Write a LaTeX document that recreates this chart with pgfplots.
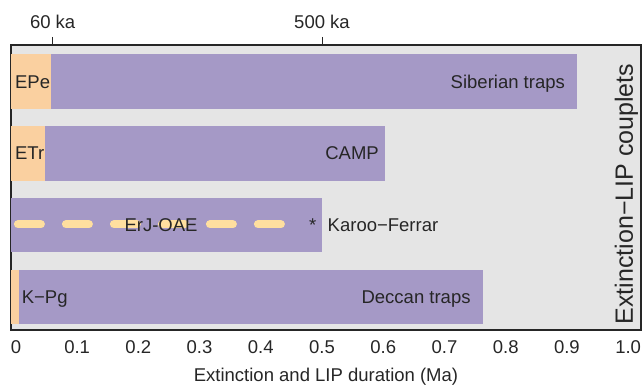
\documentclass[border=0pt]{standalone}
\usepackage{pgfplots}
\pgfplotsset{compat=1.18}
\usepackage{fontspec}
\setmainfont{Liberation Sans}
\definecolor{bggray}{HTML}{E5E5E5}
\definecolor{lip}{HTML}{A599C6}
\definecolor{ext}{HTML}{FAD0A0}
\definecolor{dashc}{HTML}{FFDF9F}
\definecolor{axc}{HTML}{262626}
\begin{document}
\begin{tikzpicture}
\path[use as bounding box] (-11pt,-56pt) rectangle (632pt,330pt);
\begin{axis}[
  scale only axis, width=630pt, height=285pt,
  xmin=-0.008, xmax=1.021, ymin=-0.462, ymax=3.51,
  axis background/.style={fill=bggray},
  axis line style={axc, line width=1.3pt},
  font=\fontsize{18.5}{22}\selectfont,
  /pgf/number format/assume math mode=true,
  ytick=\empty,
  xtick={0,0.1,0.2,0.3,0.4,0.5,0.6,0.7,0.8,0.9,1.0},
  xticklabels={0,0.1,0.2,0.3,0.4,0.5,0.6,0.7,0.8,0.9,1.0},
  major tick length=0pt,
  xticklabel style={anchor=base, yshift=-23pt, text=axc},
  xlabel={Extinction and LIP duration (Ma)},
  xlabel style={at={(axis description cs:0.5,0)}, anchor=base, yshift=-51pt, text=axc},
  clip=false,
]
% LIP durations (purple): Siberian traps, CAMP, Karoo-Ferrar, Deccan traps
\addplot[fill=lip, draw=none] coordinates {(-0.008,2.62) (0.916,2.62) (0.916,3.38) (-0.008,3.38)} -- cycle;
\addplot[fill=lip, draw=none] coordinates {(-0.008,1.62) (0.603,1.62) (0.603,2.38) (-0.008,2.38)} -- cycle;
\addplot[fill=lip, draw=none] coordinates {(-0.008,0.62) (0.500,0.62) (0.500,1.38) (-0.008,1.38)} -- cycle;
\addplot[fill=lip, draw=none] coordinates {(-0.008,-0.38) (0.763,-0.38) (0.763,0.38) (-0.008,0.38)} -- cycle;
% Extinction durations (orange): EPe, ETr, K-Pg
\addplot[fill=ext, draw=none] coordinates {(-0.008,2.62) (0.058,2.62) (0.058,3.38) (-0.008,3.38)} -- cycle;
\addplot[fill=ext, draw=none] coordinates {(-0.008,1.62) (0.047,1.62) (0.047,2.38) (-0.008,2.38)} -- cycle;
\addplot[fill=ext, draw=none] coordinates {(-0.008,-0.38) (0.005,-0.38) (0.005,0.38) (-0.008,0.38)} -- cycle;
% ErJ-OAE dashed line
\addplot[dashc, line width=8pt, line cap=round, dash pattern=on 23pt off 25pt] coordinates {
  (0.0033,1.01) (0.433,1.01)
};
\tikzset{lab/.style={text=axc, inner sep=0pt, yshift=-6.6pt}}
\node[lab, anchor=base west] at (axis cs:-0.0016,3) {EPe};
\node[lab, anchor=base east] at (axis cs:0.897,3) {Siberian traps};
\node[lab, anchor=base west] at (axis cs:-0.0016,2) {ETr};
\node[lab, anchor=base east] at (axis cs:0.593,2) {CAMP};
\node[lab, anchor=base] at (axis cs:0.237,1) {ErJ-OAE};
\node[lab, anchor=base] at (axis cs:0.485,1) {*};
\node[lab, anchor=base west] at (axis cs:0.509,1) {Karoo−Ferrar};
\node[lab, anchor=base west] at (axis cs:0.0093,0) {K−Pg};
\node[lab, anchor=base east] at (axis cs:0.743,0) {Deccan traps};
\node[rotate=90, anchor=base, text=axc, inner sep=0pt, font=\fontsize{25}{29}\selectfont] at (rel axis cs:0.987,0.477) {Extinction−LIP couplets};
\end{axis}
\begin{axis}[
  scale only axis, width=630pt, height=285pt,
  xmin=-0.008, xmax=1.021, ymin=-0.462, ymax=3.51,
  axis x line*=top, hide y axis,
  axis line style={axc, line width=1.3pt},
  font=\fontsize{18.5}{22}\selectfont,
  xtick={0.06,0.5}, xticklabels={60 ka,500 ka},
  tick align=outside, major tick length=8pt,
  tick style={axc, line width=1pt},
  xticklabel style={text=axc, anchor=base, yshift=8pt},
]
\end{axis}
\end{tikzpicture}
\end{document}
